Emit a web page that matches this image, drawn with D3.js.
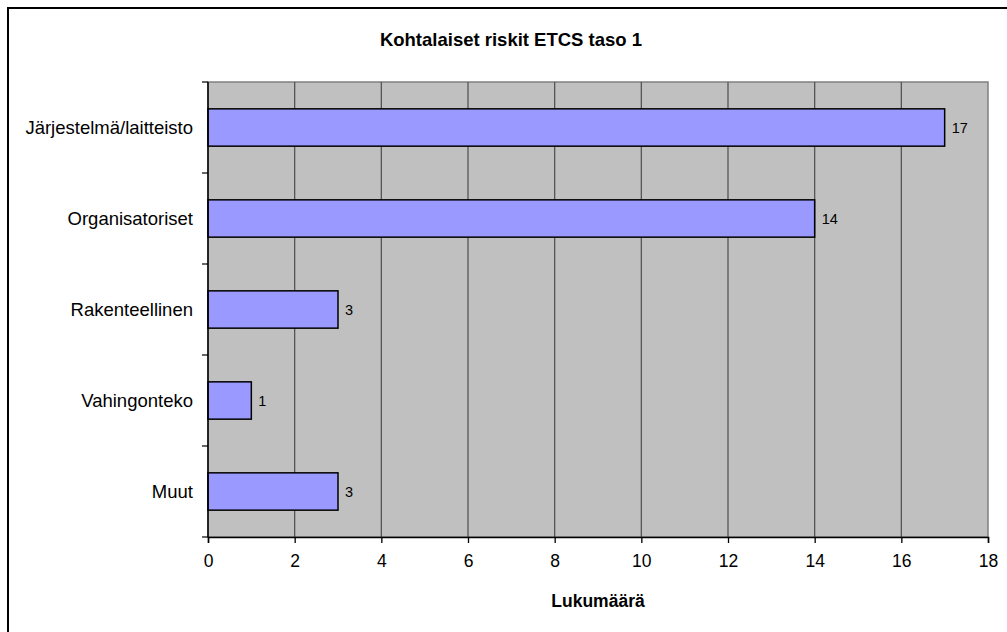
<!DOCTYPE html>
<html>
  <head>
    <style>
      html, body { margin: 0; background: #fff; overflow: hidden; }
      svg { display: block; }
      text { font-family: Arial, "Liberation Sans", sans-serif; fill: #000; }
    </style>
  </head>

  <body>

    <svg class="surface" width="1007" height="632"></svg>

    <script src="https://cdn.jsdelivr.net/npm/d3@7/dist/d3.min.js" charset="utf-8"></script>
    <script>

      const categories = ['Järjestelmä/laitteisto', 'Organisatoriset', 'Rakenteellinen', 'Vahingonteko', 'Muut']
      const values = [17, 14, 3, 1, 3]
      const xTicks = [0, 2, 4, 6, 8, 10, 12, 14, 16, 18]
      const title = 'Kohtalaiset riskit ETCS taso 1'
      const xTitle = 'Lukumäärä'

      const surface = d3.select('.surface')

      // outer chart frame: only the left and top edges are inside the picture
      surface.append('path')
        .attr('d', 'M8,632V8H1007')
        .attr('fill', 'none')
        .attr('stroke', '#000')
        .attr('stroke-width', 2)

      const plotL = 208, plotR = 988, plotT = 82, plotB = 537

      const x = d3.scaleLinear().domain([0, 18]).range([plotL, plotR])
      const y = d3.scaleBand().domain(categories).range([plotT, plotB]).paddingInner(0.59).paddingOuter(0.295)

      // plot background
      surface.append('rect')
        .attr('x', plotL).attr('y', plotT)
        .attr('width', plotR - plotL).attr('height', plotB - plotT)
        .attr('fill', '#c0c0c0')
        .attr('stroke', '#808080')
        .attr('stroke-width', 1.5)

      // gridlines
      surface.selectAll('line.grid').data(xTicks.slice(1, -1))
        .enter().append('line')
        .attr('class', 'grid')
        .attr('x1', d => x(d)).attr('x2', d => x(d))
        .attr('y1', plotT).attr('y2', plotB)
        .attr('stroke', '#555')
        .attr('stroke-width', 1.3)

      // bars
      surface.selectAll('rect.bar').data(values)
        .enter().append('rect')
        .attr('class', 'bar')
        .attr('x', x(0))
        .attr('y', (d, i) => y(categories[i]))
        .attr('width', d => x(d) - x(0))
        .attr('height', y.bandwidth())
        .attr('fill', '#9999ff')
        .attr('stroke', '#000')
        .attr('stroke-width', 1.5)

      // value labels
      surface.selectAll('text.val').data(values)
        .enter().append('text')
        .attr('class', 'val')
        .attr('x', d => x(d) + 7)
        .attr('y', (d, i) => y(categories[i]) + y.bandwidth() / 2 + 5.5)
        .attr('font-size', 14.5)
        .text(d => d)

      // x axis
      const xAxis = d3.axisBottom(x).tickValues(xTicks).tickSize(6).tickPadding(12)
      const gx = surface.append('g')
        .attr('transform', `translate(0,${plotB})`)
        .call(xAxis)
      gx.select('.domain').attr('stroke', '#000').attr('stroke-width', 1.5)
      gx.selectAll('.tick line').attr('stroke', '#000').attr('stroke-width', 1.3)
      gx.selectAll('.tick text')
        .attr('font-size', 17.5)
        .attr('font-family', 'Arial, "Liberation Sans", sans-serif')
        .attr('fill', '#000')

      // y axis: ticks at band boundaries
      const yBounds = d3.range(categories.length + 1).map(i => plotT + i * y.step())
      surface.append('line')
        .attr('x1', plotL).attr('x2', plotL)
        .attr('y1', plotT).attr('y2', plotB)
        .attr('stroke', '#000').attr('stroke-width', 1.5)
      surface.selectAll('line.ytick').data(yBounds)
        .enter().append('line')
        .attr('class', 'ytick')
        .attr('x1', plotL - 6).attr('x2', plotL)
        .attr('y1', d => d).attr('y2', d => d)
        .attr('stroke', '#000').attr('stroke-width', 1.2)

      surface.selectAll('text.cat').data(categories)
        .enter().append('text')
        .attr('class', 'cat')
        .attr('x', plotL - 15)
        .attr('y', d => y(d) + y.bandwidth() / 2 + 6.5)
        .attr('text-anchor', 'end')
        .attr('font-size', 18.5)
        .text(d => d)

      // titles
      surface.append('text')
        .attr('x', 511).attr('y', 46)
        .attr('text-anchor', 'middle')
        .attr('font-size', 18.5)
        .attr('font-weight', 'bold')
        .text(title)

      surface.append('text')
        .attr('x', (plotL + plotR) / 2).attr('y', 607)
        .attr('text-anchor', 'middle')
        .attr('font-size', 17.5)
        .attr('font-weight', 'bold')
        .text(xTitle)

    </script>
  </body>

</html>
